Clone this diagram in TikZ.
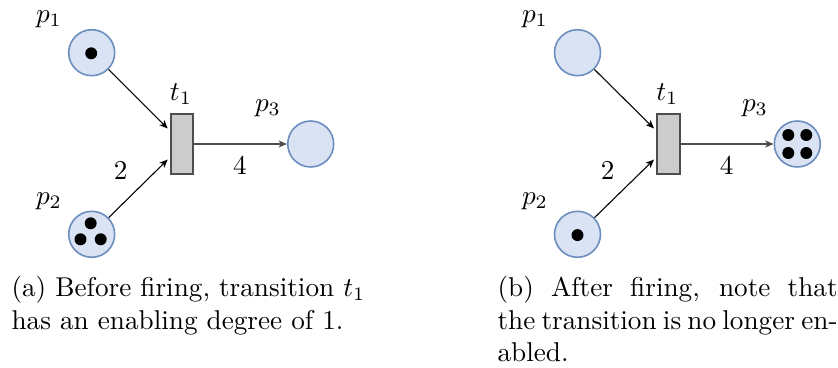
\documentclass[tikz,border=0pt]{standalone}
\usetikzlibrary{arrows.meta,calc}
\definecolor{placefill}{HTML}{DAE3F3}
\definecolor{placedraw}{HTML}{6C8EBF}
\definecolor{transfill}{HTML}{CCCCCC}
\definecolor{transdraw}{HTML}{4D4D4D}
\begin{document}
\begin{tikzpicture}[x=0.3676pt,y=-0.3676pt,
  place/.style={circle,draw=placedraw,fill=placefill,line width=0.59pt,inner sep=0pt,minimum size=16.9pt},
  trans/.style={rectangle,draw=transdraw,fill=transfill,line width=0.77pt,inner sep=0pt,minimum width=8.27pt,minimum height=22.06pt},
  arc/.style={-{Stealth[length=3.1pt,width=2.6pt,inset=0.9pt]},line width=0.4pt},
  token/.style={fill=black},
  lbl/.style={inner sep=0pt},
  capt/.style={anchor=base west,inner sep=0pt,text width=125pt,align=justify}]
\useasboundingbox (0,0) rectangle (838,368);
% ---- (a) before firing
\node[place] (ap1) at (91.7,52.7) {};
\node[place] (ap2) at (91.7,234.3) {};
\node[place] (ap3) at (310.7,144) {};
\node[trans] (at1) at (182,144) {};
\node[lbl] (lap1) at (49,19) {$p_1$};
\node[lbl] (lap2) at (49,201) {$p_2$};
\node[lbl] (lat1) at (181,94) {$t_1$};
\node[lbl] (lap3) at (268,108) {$p_3$};
\node[lbl] (law2) at (120.7,170) {2};
\node[lbl] (law4) at (240,165) {4};
\fill[token] ([shift={(-0.5,0.6)}]ap1.center) circle[radius=2.2pt];
\fill[token] ([shift={(-1,-11)}]ap2.center) circle[radius=2.2pt];
\fill[token] ([shift={(-11.2,5)}]ap2.center) circle[radius=2.2pt];
\fill[token] ([shift={(9,5)}]ap2.center) circle[radius=2.2pt];
\draw[arc] (ap1) -- ($(at1.north west)!0.25!(at1.south west)+(-2,0)$);
\draw[arc] (ap2) -- ($(at1.north west)!0.75!(at1.south west)+(-2,0)$);
\draw[arc,draw=transdraw] (at1.east) -- (ap3);
\node[capt,text width=140pt,align=left] (capa) at (11,296.5) {(a) Before firing, transition $t_1$\\has an enabling degree of 1.};
% ---- (b) after firing
\node[place] (bp1) at (577.5,52.7) {};
\node[place] (bp2) at (577.5,234.3) {};
\node[place] (bp3) at (797.3,144) {};
\node[trans] (bt1) at (668.3,144) {};
\node[lbl] (lbp1) at (535,19) {$p_1$};
\node[lbl] (lbp2) at (535,201) {$p_2$};
\node[lbl] (lbt1) at (667.3,94) {$t_1$};
\node[lbl] (lbp3) at (755,108) {$p_3$};
\node[lbl] (lbw2) at (607.7,170) {2};
\node[lbl] (lbw4) at (726.7,165) {4};
\fill[token] ([shift={(0,0.8)}]bp2.center) circle[radius=2.2pt];
\fill[token] ([shift={(-9,-9)}]bp3.center) circle[radius=2.2pt];
\fill[token] ([shift={(9,-9)}]bp3.center) circle[radius=2.2pt];
\fill[token] ([shift={(-9,9)}]bp3.center) circle[radius=2.2pt];
\fill[token] ([shift={(9,9)}]bp3.center) circle[radius=2.2pt];
\draw[arc] (bp1) -- ($(bt1.north west)!0.25!(bt1.south west)+(-2,0)$);
\draw[arc] (bp2) -- ($(bt1.north west)!0.75!(bt1.south west)+(-2,0)$);
\draw[arc,draw=transdraw] (bt1.east) -- (bp3);
\node[capt] (capb) at (497,296.5) {(b) After firing, note that the transition is no longer enabled.};
\end{tikzpicture}
\end{document}
